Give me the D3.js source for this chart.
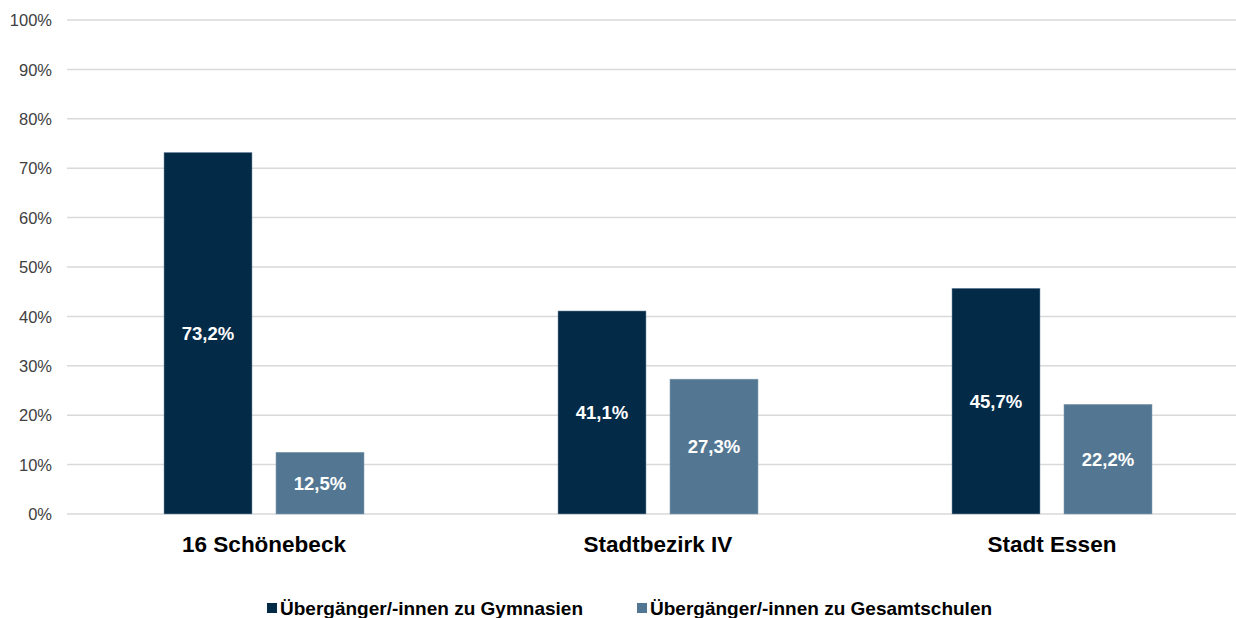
<!DOCTYPE html>
<html>
<head>
<meta charset="utf-8">
<script src="https://cdn.jsdelivr.net/npm/d3@7"></script>
<style>
  body { margin: 0; background: #fff; overflow: hidden; }
  svg { font-family: "Liberation Sans", Arial, sans-serif; display: block; }
  .tick text { fill: #404040; font-size: 16.5px; }
  .cat { font-weight: bold; font-size: 22.5px; fill: #000; }
  .val { font-weight: bold; font-size: 18.5px; fill: #fff; }
  .leg { font-weight: bold; font-size: 19px; fill: #000; }
</style>
</head>
<body>
<svg width="1236" height="618"></svg>
<script>
const categories = ["16 Schönebeck", "Stadtbezirk IV", "Stadt Essen"]
const seriesNames = ["Übergänger/-innen zu Gymnasien", "Übergänger/-innen zu Gesamtschulen"]
const gymnasien = [73.2, 41.1, 45.7]
const gesamtschulen = [12.5, 27.3, 22.2]
const yTicks = [0, 10, 20, 30, 40, 50, 60, 70, 80, 90, 100]
const colors = ["#032a47", "#537792"]

const svg = d3.select("svg")
const plotLeft = 67, plotRight = 1249, plotTop = 20, plotBottom = 514

const x = d3.scaleBand()
  .domain(categories)
  .range([plotLeft, plotRight])

const xs = d3.scaleBand()
  .domain([0, 1])
  .range([0, x.bandwidth()])
  .paddingInner(0.214)
  .paddingOuter(0.866)

const y = d3.scaleLinear()
  .domain([0, 100])
  .range([plotBottom, plotTop])

// grid
svg.append("g")
  .selectAll("line")
  .data(yTicks)
  .enter()
  .append("line")
  .attr("x1", plotLeft)
  .attr("x2", 1236)
  .attr("y1", d => y(d))
  .attr("y2", d => y(d))
  .attr("stroke", "#d9d9d9")
  .attr("stroke-width", 1.5)

const yAxis = svg.append("g")
  .attr("transform", `translate(${plotLeft - 15},0)`)
  .call(d3.axisLeft(y).tickValues(yTicks).tickSize(0).tickFormat(d => d + "%"))
yAxis.select(".domain").remove()
yAxis.selectAll("text").attr("dy", "0.35em").attr("x", 0)

const series = [gymnasien, gesamtschulen]

const groups = svg.selectAll("g.grp")
  .data(categories)
  .enter()
  .append("g")
  .attr("class", "grp")
  .attr("transform", d => `translate(${x(d)},0)`)

series.forEach((vals, s) => {
  groups.append("rect")
    .attr("x", xs(s))
    .attr("width", xs.bandwidth())
    .attr("y", (d, i) => y(vals[i]))
    .attr("height", (d, i) => y(0) - y(vals[i]))
    .attr("fill", colors[s])
    .attr("stroke", "#8aa2b5")
    .attr("stroke-width", 0.5)

  groups.append("text")
    .attr("class", "val")
    .attr("text-anchor", "middle")
    .attr("x", xs(s) + xs.bandwidth() / 2)
    .attr("y", (d, i) => (y(vals[i]) + y(0)) / 2)
    .attr("dy", "0.35em")
    .text((d, i) => vals[i].toFixed(1).replace(".", ",") + "%")
})

groups.append("text")
  .attr("class", "cat")
  .attr("text-anchor", "middle")
  .attr("x", x.bandwidth() / 2)
  .attr("y", 544)
  .attr("dy", "0.35em")
  .text(d => d)

// legend
const legX = [267, 637]
const leg = svg.selectAll("g.leg")
  .data(seriesNames)
  .enter()
  .append("g")
  .attr("transform", (d, i) => `translate(${legX[i]},608)`)

leg.append("rect")
  .attr("x", 0)
  .attr("y", -5)
  .attr("width", 10)
  .attr("height", 10)
  .attr("fill", (d, i) => colors[i])

leg.append("text")
  .attr("class", "leg")
  .attr("x", 13)
  .attr("dy", "0.35em")
  .text(d => d)
</script>
</body>
</html>
